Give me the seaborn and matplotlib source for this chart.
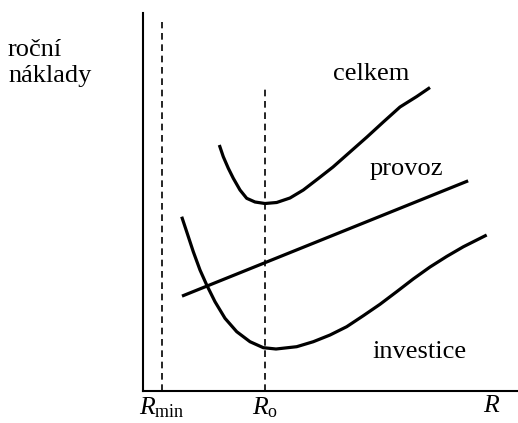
import numpy as np
import pandas as pd
import seaborn as sns
import matplotlib.pyplot as plt

# curve points (R, annual cost), arbitrary units
celkem_r = [2.035, 2.141, 2.275, 2.408, 2.587, 2.765, 2.987, 3.253, 3.565, 3.920,
            4.275, 4.675, 5.067, 5.520, 5.973, 6.408, 6.853, 7.299, 7.653]
celkem_c = [6.508, 6.198, 5.892, 5.627, 5.317, 5.098, 5.000, 4.960, 4.987, 5.106,
            5.317, 5.622, 5.926, 6.323, 6.720, 7.116, 7.513, 7.790, 8.029]

investice_r = [1.032, 1.165, 1.341, 1.520, 1.699, 1.920, 2.187, 2.499, 2.853, 3.208,
               3.547, 4.099, 4.541, 4.987, 5.432, 5.875, 6.320, 6.765, 7.208, 7.653,
               8.099, 8.541, 9.165]
investice_c = [4.611, 4.214, 3.685, 3.201, 2.804, 2.362, 1.923, 1.569, 1.304, 1.146,
               1.111, 1.172, 1.304, 1.481, 1.701, 1.992, 2.294, 2.627, 2.965, 3.280,
               3.560, 3.815, 4.127]

provoz_r = [1.04, 8.67]
provoz_c = [2.51, 5.56]

# markers on the R axis
tick_pos = [0.5, 3.25, 9.3]
tick_labels = [r'$R_{\mathrm{min}}$', r'$R_{\mathrm{o}}$', r'$R$']
dash_top = [9.76, 8.1]   # top of dashed lines at R_min and R_o

# curve labels
label_text = ['celkem', 'provoz', 'investice']
label_x = [5.07, 6.05, 6.11]
label_y = [8.23, 5.71, 0.87]

sns.set_theme(style='white')
plt.rcParams['font.family'] = ['Liberation Serif', 'DejaVu Serif']
plt.rcParams['mathtext.fontset'] = 'custom'
plt.rcParams['mathtext.rm'] = 'Liberation Serif'
plt.rcParams['mathtext.it'] = 'Liberation Serif:italic'
plt.rcParams['text.color'] = 'black'
plt.rcParams['xtick.color'] = 'black'

fig = plt.figure(figsize=(5.18, 4.23), dpi=100)
ax = fig.add_axes([143 / 518, 32 / 423, 375 / 518, 378 / 423])

curves = [(celkem_r, celkem_c), (provoz_r, provoz_c), (investice_r, investice_c)]
for r, c in curves:
    df = pd.DataFrame({'R': r, 'cost': c})
    sns.lineplot(data=df, x='R', y='cost', sort=False, estimator=None,
                 color='black', lw=2.3, solid_joinstyle='round',
                 solid_capstyle='butt', ax=ax)

ax.vlines(tick_pos[:2], 0, dash_top, colors='black', linestyles=(0, (4, 2.8)), lw=1.2)

for t, x, y in zip(label_text, label_x, label_y):
    ax.text(x, y, t, fontsize=19, ha='left', va='baseline', color='black')

fig.text(8 / 518, 1 - 56 / 423, 'roční', fontsize=19, ha='left', va='baseline', color='black')
fig.text(8 / 518, 1 - 82 / 423, 'náklady', fontsize=19, ha='left', va='baseline', color='black')

ax.set_xlim(0, 10)
ax.set_ylim(0, 10)
ax.set_xticks(tick_pos)
ax.set_xticklabels(tick_labels, fontsize=18.5, color='black')
ax.set_yticks([])
ax.tick_params(axis='x', length=0, pad=3)
ax.set_xlabel('')
ax.set_ylabel('')
for s in ['top', 'right']:
    ax.spines[s].set_visible(False)
for s in ['left', 'bottom']:
    ax.spines[s].set_color('black')
    ax.spines[s].set_linewidth(1.5)

fig.savefig('out.png', dpi=100)
